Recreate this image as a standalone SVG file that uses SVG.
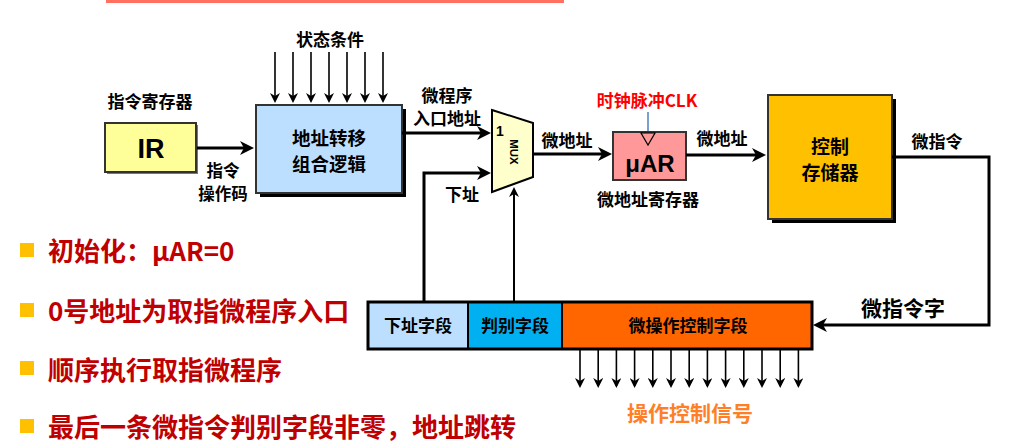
<svg xmlns="http://www.w3.org/2000/svg" width="1010" height="443" viewBox="0 0 1010 443">
  <style>
    .t { font-family: "Noto Sans CJK SC", "Liberation Sans", sans-serif; font-weight: bold; fill: #000; }
    .lbl { font-size: 17px; }
    .lat { font-family: "Liberation Sans", "DejaVu Sans", sans-serif; font-weight: bold; fill: #000; }
    .box { stroke: #333; stroke-width: 2; }
    .wire { fill: none; stroke: #000; stroke-width: 3; }
    .thin { fill: none; stroke: #000; stroke-width: 1.6; }
    .bullet { font-family: "Noto Sans CJK SC", "Liberation Sans", sans-serif; font-weight: bold; font-size: 26px; fill: #C00000; }
  </style>
  <defs>
    <marker id="arr" markerUnits="userSpaceOnUse" viewBox="0 0 14 14" refX="10" refY="7" markerWidth="14" markerHeight="14" orient="auto">
      <path d="M0,0 L14,7 L0,14 L4,7 z" fill="#000"/>
    </marker>
    <marker id="arrS" markerUnits="userSpaceOnUse" viewBox="0 0 10 10" refX="8" refY="5" markerWidth="10" markerHeight="10" orient="auto">
      <path d="M0,0 L10,5 L0,10 L3,5 z" fill="#000"/>
    </marker>
  </defs>

  <!-- title strip -->
  <rect x="106" y="0" width="458" height="3" fill="#FF7060"/>

  <!-- status condition inputs -->
  <g id="status">
    <text class="t lbl" x="330" y="46" text-anchor="middle">状态条件</text>
    <g class="thin" marker-end="url(#arrS)">
      <line x1="275" y1="52" x2="275" y2="101"/>
      <line x1="293" y1="52" x2="293" y2="101"/>
      <line x1="311" y1="52" x2="311" y2="101"/>
      <line x1="329" y1="52" x2="329" y2="101"/>
      <line x1="347" y1="52" x2="347" y2="101"/>
      <line x1="365" y1="52" x2="365" y2="101"/>
      <line x1="383" y1="52" x2="383" y2="101"/>
    </g>
  </g>

  <!-- instruction register -->
  <g id="ir">
    <text class="t lbl" x="150" y="108" text-anchor="middle">指令寄存器</text>
    <rect x="107" y="125" width="91" height="49" fill="#777"/>
    <rect class="box" x="105" y="123" width="91" height="49" fill="#FFFF99"/>
    <text class="lat" x="151" y="158" font-size="27" text-anchor="middle">IR</text>
  </g>

  <!-- address mapping logic -->
  <g id="addr-logic">
    <rect x="260" y="109" width="146" height="88" fill="#000"/>
    <rect class="box" x="256" y="105" width="146" height="88" fill="#BDDFFF"/>
    <text class="t" x="329" y="145" font-size="18.5" font-weight="normal" text-anchor="middle">地址转移</text>
    <text class="t" x="329" y="171" font-size="18.5" font-weight="normal" text-anchor="middle">组合逻辑</text>
  </g>

  <!-- multiplexer -->
  <g id="mux">
    <path d="M492,110 L533,123 L533,177 L492,192 z" fill="#FFFFCC" stroke="#000" stroke-width="2"/>
    <text class="lat" x="500" y="136" font-size="14" text-anchor="middle">1</text>
    <text class="lat" x="0" y="0" font-size="11.5" text-anchor="middle" transform="translate(510,152) rotate(90)">MUX</text>
  </g>

  <!-- micro address register -->
  <g id="uar">
    <text class="t lbl" x="647" y="107" text-anchor="middle" style="fill:#FF0000">时钟脉冲CLK</text>
    <line x1="648" y1="112" x2="648" y2="132" stroke="#4F81BD" stroke-width="1.5"/>
    <rect class="box" x="613" y="132" width="73" height="48" fill="#FF9999"/>
    <path d="M641,133 L655,133 L648,145 z" fill="none" stroke="#000" stroke-width="1.2"/>
    <text class="lat" x="650" y="172" font-size="24" text-anchor="middle">μAR</text>
    <text class="t lbl" x="648" y="206" text-anchor="middle">微地址寄存器</text>
  </g>

  <!-- control store -->
  <g id="cs">
    <rect x="772" y="99" width="124" height="124" fill="#000"/>
    <rect class="box" x="768" y="95" width="124" height="124" fill="#FFC000"/>
    <text class="t" x="830" y="154" font-size="19" text-anchor="middle">控制</text>
    <text class="t" x="830" y="180" font-size="19" text-anchor="middle">存储器</text>
  </g>

  <!-- microinstruction word -->
  <g id="word">
    <rect x="368" y="302" width="100" height="47" fill="#BDDFFF"/>
    <rect x="468" y="302" width="94" height="47" fill="#00B0F0"/>
    <rect x="562" y="302" width="250" height="47" fill="#FF6600"/>
    <rect x="368" y="302" width="444" height="47" fill="none" stroke="#000" stroke-width="3"/>
    <line x1="468" y1="302" x2="468" y2="349" stroke="#000" stroke-width="2"/>
    <line x1="562" y1="302" x2="562" y2="349" stroke="#000" stroke-width="2"/>
    <text class="t lbl" x="418" y="332" text-anchor="middle">下址字段</text>
    <text class="t lbl" x="515" y="332" text-anchor="middle">判别字段</text>
    <text class="t lbl" x="688" y="332" text-anchor="middle">微操作控制字段</text>
    <text class="t" x="903" y="316" font-size="21" text-anchor="middle">微指令字</text>
  </g>

  <!-- control signal outputs -->
  <g id="signals">
    <g class="thin" marker-end="url(#arrS)">
      <line x1="580" y1="350" x2="580" y2="386"/>
      <line x1="598.2" y1="350" x2="598.2" y2="386"/>
      <line x1="616.4" y1="350" x2="616.4" y2="386"/>
      <line x1="634.6" y1="350" x2="634.6" y2="386"/>
      <line x1="652.8" y1="350" x2="652.8" y2="386"/>
      <line x1="671" y1="350" x2="671" y2="386"/>
      <line x1="689.2" y1="350" x2="689.2" y2="386"/>
      <line x1="707.4" y1="350" x2="707.4" y2="386"/>
      <line x1="725.6" y1="350" x2="725.6" y2="386"/>
      <line x1="743.8" y1="350" x2="743.8" y2="386"/>
      <line x1="762" y1="350" x2="762" y2="386"/>
      <line x1="780.2" y1="350" x2="780.2" y2="386"/>
      <line x1="798.4" y1="350" x2="798.4" y2="386"/>
    </g>
    <text class="t" x="690" y="421" font-size="21" text-anchor="middle" style="fill:#FF7F27">操作控制信号</text>
  </g>

  <!-- connectors -->
  <g id="connectors">
    <line class="wire" x1="197" y1="148" x2="250" y2="148" marker-end="url(#arr)"/>
    <line class="wire" x1="402" y1="133" x2="487" y2="133" marker-end="url(#arr)"/>
    <path class="wire" d="M424,302 V173 H487" marker-end="url(#arr)"/>
    <line x1="514" y1="302" x2="514" y2="189" stroke="#000" stroke-width="2" marker-end="url(#arrS)"/>
    <line class="wire" x1="533" y1="154" x2="608" y2="154" marker-end="url(#arr)"/>
    <line class="wire" x1="686" y1="155" x2="762" y2="155" marker-end="url(#arr)"/>
    <path class="wire" d="M892,157 H989 V325 H817" marker-end="url(#arr)"/>
  </g>

  <!-- connector labels -->
  <g id="labels">
    <text class="t" x="223" y="177" font-size="16.5" text-anchor="middle">指令</text>
    <text class="t" x="223" y="200" font-size="16.5" text-anchor="middle">操作码</text>
    <text class="t lbl" x="447" y="102" text-anchor="middle">微程序</text>
    <text class="t lbl" x="447" y="125" text-anchor="middle">入口地址</text>
    <text class="t lbl" x="462" y="201" text-anchor="middle">下址</text>
    <text class="t lbl" x="567" y="147" text-anchor="middle">微地址</text>
    <text class="t lbl" x="722" y="145" text-anchor="middle">微地址</text>
    <text class="t lbl" x="937" y="148" text-anchor="middle">微指令</text>
  </g>

  <!-- notes -->
  <g id="notes">
    <rect x="20" y="243" width="14" height="14" fill="#FFC000"/>
    <rect x="20" y="303" width="14" height="14" fill="#FFC000"/>
    <rect x="20" y="361" width="14" height="14" fill="#FFC000"/>
    <rect x="20" y="419" width="14" height="14" fill="#FFC000"/>
    <text class="bullet" x="48" y="261">初始化：μAR=0</text>
    <text class="bullet" x="48" y="321">0号地址为取指微程序入口</text>
    <text class="bullet" x="48" y="380">顺序执行取指微程序</text>
    <text class="bullet" x="48" y="437">最后一条微指令判别字段非零，地址跳转</text>
  </g>
</svg>
